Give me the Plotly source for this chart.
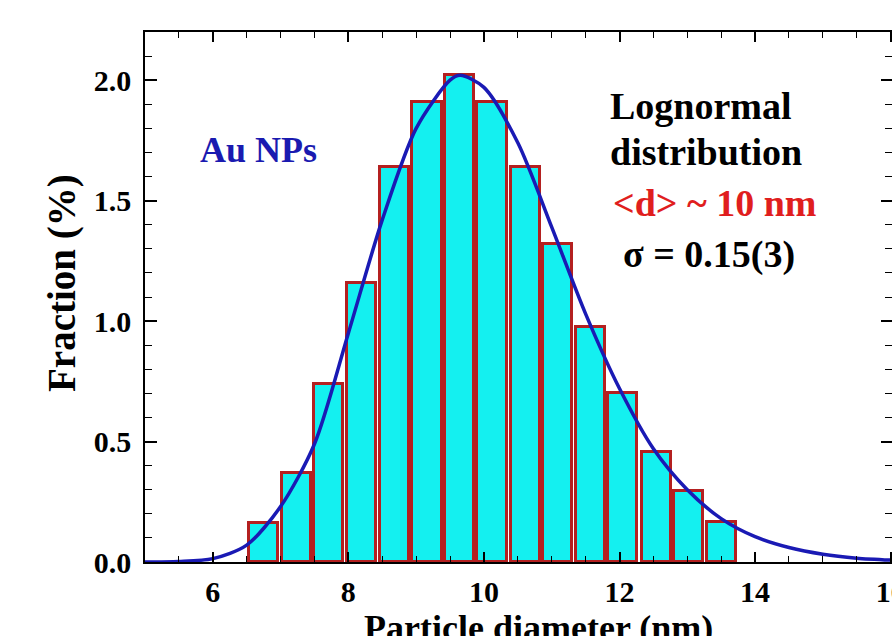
import plotly.graph_objects as go

# Histogram bins (particle diameter, nm) and fractions (%)
bin_centers = [6.75, 7.23, 7.71, 8.19, 8.68, 9.16, 9.64, 10.12, 10.61, 11.09,
               11.57, 12.05, 12.54, 13.02, 13.50]
fractions = [0.16, 0.37, 0.74, 1.16, 1.64, 1.91, 2.02, 1.91, 1.64, 1.32,
             0.975, 0.70, 0.456, 0.295, 0.166]

# Lognormal fit curve
fit_x = [5.0, 5.5, 6.0, 6.5, 7.0, 7.5, 8.0, 8.5, 9.0, 9.5, 9.65, 10.0, 10.5,
         11.0, 11.5, 12.0, 12.5, 13.0, 13.5, 14.0, 14.5, 15.0, 15.5, 16.0]
fit_y = [0.0, 0.002, 0.014, 0.07, 0.23, 0.49, 0.95, 1.42, 1.80, 2.00, 2.02,
         1.97, 1.74, 1.39, 1.03, 0.72, 0.47, 0.30, 0.18, 0.105, 0.06, 0.032,
         0.016, 0.008]

x_ticks = [6, 8, 10, 12, 14, 16]
y_ticks = [0.0, 0.5, 1.0, 1.5, 2.0]

SERIF = "Liberation Serif, Times New Roman, serif"
W, H = 892, 636
PL, PT, PR, PB = 145, 32, 892, 562   # plot area in window pixels
L, T = PL, PT
pw, ph = PR - PL, PB - PT
R, B = W - L - pw, H - T - ph


def px_to_paper(px, py):
    return (px - PL) / pw, (PB - py) / ph


fig = go.Figure()
fig.add_trace(go.Bar(
    x=bin_centers, y=fractions, width=0.43,
    marker=dict(color="#14F0F0", line=dict(color="#B42020", width=3)),
    showlegend=False,
))
fig.add_trace(go.Scatter(
    x=fit_x, y=fit_y, mode="lines",
    line=dict(color="#1A1AB4", width=3.5, shape="spline", smoothing=0.8),
    showlegend=False,
))
# right-side ticks without a visible line
fig.add_trace(go.Scatter(x=[None], y=[None], yaxis="y2", showlegend=False))

axis_font = dict(family=SERIF, size=30, color="black", weight="bold")

fig.update_layout(
    width=W, height=H,
    margin=dict(l=L, r=R, t=T, b=B, pad=0, autoexpand=False),
    paper_bgcolor="white", plot_bgcolor="white",
    bargap=0,
    xaxis=dict(
        range=[5, 16.02], tickvals=x_ticks, ticktext=[str(v) for v in x_ticks],
        ticks="inside", ticklen=10, tickwidth=1.5, tickcolor="black",
        showline=True, linecolor="black", linewidth=1.5, mirror="ticks",
        showgrid=False, zeroline=False, tickfont=axis_font,
        ticklabelstandoff=2, ticklabeloverflow="allow",
        minor=dict(dtick=0.5, tick0=5, ticks="inside", ticklen=6,
                   tickwidth=1.2, tickcolor="black", showgrid=False),
    ),
    yaxis=dict(
        range=[0, 2.2], tickvals=y_ticks,
        ticktext=["%.1f" % v for v in y_ticks],
        ticks="inside", ticklen=12, tickwidth=1.5, tickcolor="black",
        showline=True, linecolor="black", linewidth=1.5, mirror=False,
        showgrid=False, zeroline=False, tickfont=axis_font,
        ticklabelstandoff=6,
        minor=dict(dtick=0.1, tick0=0, ticks="inside", ticklen=7,
                   tickwidth=1.2, tickcolor="black", showgrid=False),
    ),
    yaxis2=dict(
        range=[0, 2.2], overlaying="y", side="right", tickvals=y_ticks,
        ticks="inside", ticklen=11, tickwidth=1.5, tickcolor="black",
        showline=False, showgrid=False, zeroline=False, showticklabels=False,
        minor=dict(dtick=0.1, tick0=0, ticks="inside", ticklen=7,
                   tickwidth=1.2, tickcolor="black", showgrid=False),
    ),
)


def add_text(text, px, py, size, color, xanchor="left", angle=0):
    x, y = px_to_paper(px, py)
    fig.add_annotation(
        text=text, x=x, y=y, xref="paper", yref="paper",
        xanchor=xanchor, yanchor="middle", showarrow=False, textangle=angle,
        font=dict(family=SERIF, size=size, color=color, weight="bold"),
    )


add_text("Au NPs", 198, 150, 36, "#1A1AB0")
add_text("Lognormal", 608, 106, 38, "black")
add_text("distribution", 608, 152, 38, "black")
add_text("&lt;d&gt; ~ 10 nm", 611, 203, 38, "#E01E1E")
add_text("σ = 0.15(3)", 621, 254, 38, "black")
add_text("Fraction (%)", 62, 283, 39, "black", xanchor="center", angle=-90)
add_text("Particle diameter (nm)", 538, 628, 36, "black", xanchor="center")

fig.write_html(
    "out.html",
    config={"displayModeBar": False},
    post_script="document.body.style.margin='0';"
                "document.documentElement.style.overflow='hidden';"
                "document.body.style.overflow='hidden';",
)
